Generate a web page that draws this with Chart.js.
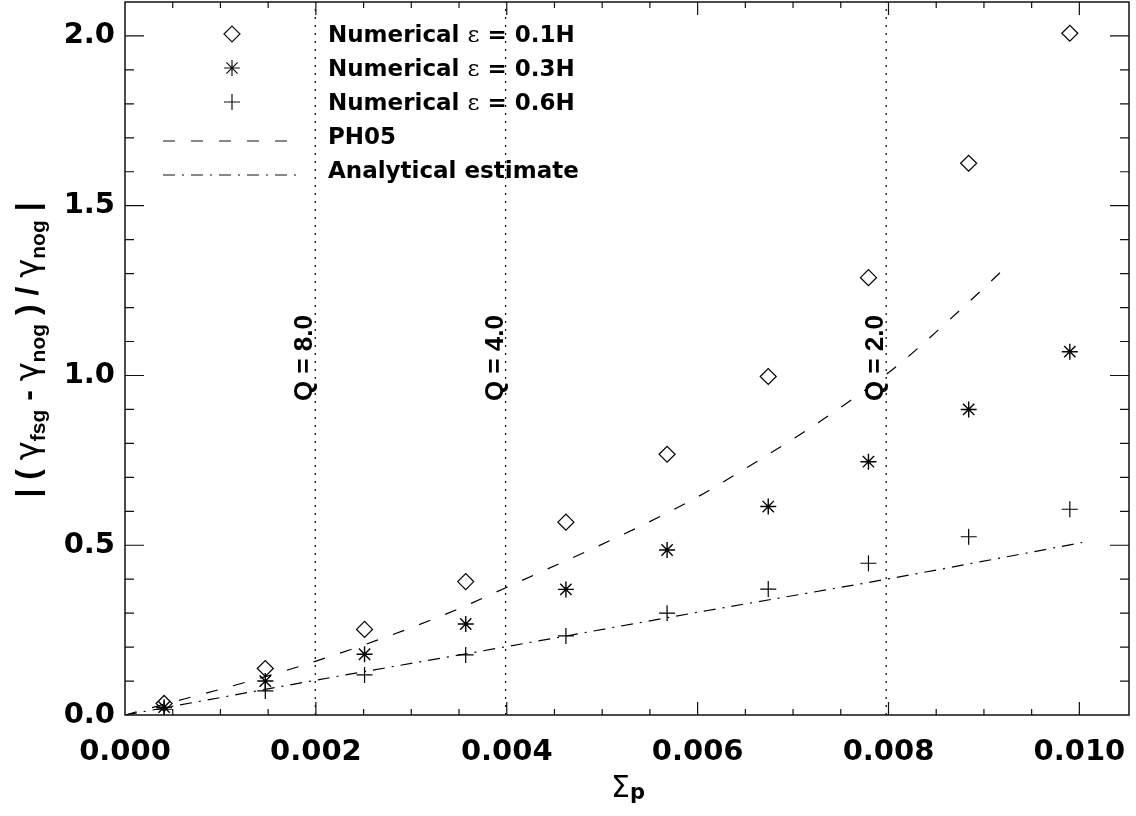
<!DOCTYPE html>
<html>
<head>
<meta charset="utf-8">
<title>Growth rate deviation vs Sigma_p</title>
<style>
  html, body { margin: 0; padding: 0; background: #fff; }
  #wrap { width: 1136px; height: 816px; position: relative; }
</style>
<script src="https://cdn.jsdelivr.net/npm/chart.js"></script>
</head>
<body>
<div id="wrap"><canvas id="chart"></canvas></div>
<script>
// values
const sigmaP = [0.00041, 0.00147, 0.00251, 0.00357, 0.00462, 0.00568, 0.00674, 0.00779, 0.00884, 0.00990];
const eps01 = [0.034, 0.137, 0.252, 0.393, 0.568, 0.768, 0.997, 1.288, 1.625, 2.008];
const eps03 = [0.023, 0.100, 0.179, 0.268, 0.370, 0.486, 0.614, 0.746, 0.900, 1.070];
const eps06 = [0.017, 0.071, 0.118, 0.177, 0.233, 0.300, 0.371, 0.447, 0.525, 0.606];

const ph05X = [0, 0.00187, 0.0033, 0.00399, 0.00568, 0.0062, 0.00798, 0.00876, 0.00923];
const ph05Y = [0, 0.147, 0.290, 0.375, 0.595, 0.675, 1.004, 1.195, 1.319];

const anaX = [0, 0.00215, 0.00399, 0.00609, 0.00798, 0.01003];
const anaY = [0, 0.110, 0.201, 0.307, 0.400, 0.508];

const qValues = [8.0, 4.0, 2.0];
const qSigma = [0.001994, 0.003988, 0.007976];

const xTicks = [0, 0.002, 0.004, 0.006, 0.008, 0.010];
const yTicks = [0.0, 0.5, 1.0, 1.5, 2.0];

const legendLabels = ["0.1H", "0.3H", "0.6H"];

const pts = (xs, ys) => xs.map((x, i) => ({ x: x, y: ys[i] }));

const qLines = qSigma.map((s) => ({
  data: [{ x: s, y: 0 }, { x: s, y: 2.1 }],
  showLine: true,
  borderColor: "#000",
  borderWidth: 1.2,
  borderDash: [2, 6],
  pointRadius: 0,
}));

// draw text made of pieces (bold / greek / subscript)
function drawRuns(ctx, runs, x, y) {
  let w = 0;
  for (const r of runs) {
    ctx.font = r.font;
    r.w = ctx.measureText(r.t).width;
    w += r.w;
  }
  let cx = x;
  for (const r of runs) {
    ctx.font = r.font;
    ctx.fillText(r.t, cx, y + (r.dy || 0));
    cx += r.w;
  }
  return w;
}
function runsWidth(ctx, runs) {
  let w = 0;
  for (const r of runs) {
    ctx.font = r.font;
    w += ctx.measureText(r.t).width;
  }
  return w;
}

function symbol(ctx, kind, x, y, r) {
  ctx.beginPath();
  if (kind === "diamond") {
    ctx.moveTo(x - r, y); ctx.lineTo(x, y - r); ctx.lineTo(x + r, y); ctx.lineTo(x, y + r); ctx.closePath();
  } else {
    ctx.moveTo(x - r, y); ctx.lineTo(x + r, y);
    ctx.moveTo(x, y - r); ctx.lineTo(x, y + r);
    if (kind === "star") {
      const d = r * Math.SQRT1_2;
      ctx.moveTo(x - d, y - d); ctx.lineTo(x + d, y + d);
      ctx.moveTo(x - d, y + d); ctx.lineTo(x + d, y - d);
    }
  }
  ctx.stroke();
}

// kill the label overflow padding so the plot box lands where we want it
const noPad = (s) => {
  s.paddingTop = 0; s.paddingBottom = 0; s.paddingLeft = 0; s.paddingRight = 0;
};

const decor = {
  id: "decor",
  afterDatasetsDraw(chart) {
    const { ctx, chartArea: a, scales } = chart;
    const x = scales.x, y = scales.y;
    ctx.save();
    ctx.strokeStyle = "#111";
    ctx.fillStyle = "#000";

    // frame + inward ticks on all four sides
    ctx.lineWidth = 1.5;
    ctx.strokeRect(a.left, a.top, a.right - a.left, a.bottom - a.top);
    ctx.lineWidth = 1.2;
    ctx.beginPath();
    for (let i = 1; ; i++) {
      const px = x.getPixelForValue(i * 0.0005);
      if (px > a.right - 3) break;
      const len = i % 4 === 0 ? 13 : 6;
      ctx.moveTo(px, a.bottom); ctx.lineTo(px, a.bottom - len);
      ctx.moveTo(px, a.top); ctx.lineTo(px, a.top + len);
    }
    for (let i = 1; ; i++) {
      const py = y.getPixelForValue(i / 10);
      if (py < a.top + 3) break;
      const len = i % 5 === 0 ? 19 : 9;
      ctx.moveTo(a.left, py); ctx.lineTo(a.left + len, py);
      ctx.moveTo(a.right, py); ctx.lineTo(a.right - len, py);
    }
    ctx.stroke();

    // Q labels next to the dotted lines
    ctx.font = 'bold 26px "Liberation Sans"';
    ctx.textAlign = "center";
    ctx.textBaseline = "alphabetic";
    qValues.forEach((q, i) => {
      const px = x.getPixelForValue(qSigma[i]);
      ctx.save();
      ctx.translate(px - 3, 358);
      ctx.rotate(-Math.PI / 2);
      ctx.fillText("Q = " + q.toFixed(1), 0, 0);
      ctx.restore();
    });
    ctx.textAlign = "left";

    // legend
    const lf = 'bold 23px "DejaVu Sans"';
    const gf = '23px "DejaVu Serif"';
    const rowY = [34, 68, 102, 136, 170];
    const kinds = ["diamond", "star", "plus"];
    ctx.lineWidth = 1.2;
    for (let i = 0; i < 3; i++) {
      symbol(ctx, kinds[i], 232, rowY[i], 8);
      drawRuns(ctx, [
        { t: "Numerical ", font: lf },
        { t: "ε", font: gf },
        { t: " = " + legendLabels[i], font: lf },
      ], 328, rowY[i] + 8);
    }
    ctx.setLineDash([12, 16]);
    ctx.beginPath(); ctx.moveTo(163, rowY[3] + 5); ctx.lineTo(290, rowY[3] + 5); ctx.stroke();
    ctx.setLineDash([12, 7, 2, 7]);
    ctx.beginPath(); ctx.moveTo(163, rowY[4] + 5); ctx.lineTo(298, rowY[4] + 5); ctx.stroke();
    ctx.setLineDash([]);
    ctx.font = lf;
    ctx.fillText("PH05", 328, rowY[3] + 8);
    ctx.fillText("Analytical estimate", 328, rowY[4] + 8);

    // x axis title
    drawRuns(ctx, [
      { t: "Σ", font: '30px "DejaVu Sans"' },
      { t: "p", font: 'bold 21px "DejaVu Sans"', dy: 2 },
    ], 611, 797);

    // y axis title (rotated)
    const bf = 'bold 32px "Liberation Sans"';
    const gy = '32px "DejaVu Sans"';
    const sf = 'bold 21px "Liberation Sans"';
    const yRuns = [
      { t: "| ( ", font: bf },
      { t: "γ", font: gy },
      { t: "fsg", font: sf, dy: 7 },
      { t: " - ", font: bf },
      { t: "γ", font: gy },
      { t: "nog", font: sf, dy: 7 },
      { t: " ) / ", font: bf },
      { t: "γ", font: gy },
      { t: "nog", font: sf, dy: 7 },
      { t: " |", font: bf },
    ];
    ctx.save();
    ctx.translate(38, 350);
    ctx.rotate(-Math.PI / 2);
    const w = runsWidth(ctx, yRuns);
    drawRuns(ctx, yRuns, -w / 2, 0);
    ctx.restore();

    ctx.restore();
  },
};

new Chart(document.getElementById("chart"), {
  type: "scatter",
  data: {
    datasets: [
      ...qLines,
      {
        label: "PH05",
        data: pts(ph05X, ph05Y),
        showLine: true,
        borderColor: "#000",
        borderWidth: 1.2,
        borderDash: [12, 16],
        cubicInterpolationMode: "monotone",
        pointRadius: 0,
      },
      {
        label: "Analytical estimate",
        data: pts(anaX, anaY),
        showLine: true,
        borderColor: "#000",
        borderWidth: 1.2,
        borderDash: [12, 7, 2, 7],
        cubicInterpolationMode: "monotone",
        pointRadius: 0,
      },
      {
        label: "Numerical eps = 0.1H",
        data: pts(sigmaP, eps01),
        pointStyle: "rectRot",
        pointRadius: 8,
        borderColor: "#000",
        backgroundColor: "rgba(0,0,0,0)",
        pointBorderWidth: 1.2,
      },
      {
        label: "Numerical eps = 0.3H",
        data: pts(sigmaP, eps03),
        pointStyle: "star",
        pointRadius: 8,
        borderColor: "#000",
        pointBorderWidth: 1.4,
      },
      {
        label: "Numerical eps = 0.6H",
        data: pts(sigmaP, eps06),
        pointStyle: "cross",
        pointRadius: 8,
        borderColor: "#000",
        pointBorderWidth: 1.2,
      },
    ],
  },
  options: {
    responsive: true,
    maintainAspectRatio: false,
    animation: false,
    events: [],
    layout: { autoPadding: false, padding: { top: 2, right: 7, left: 0, bottom: 0 } },
    plugins: { legend: { display: false }, tooltip: { enabled: false } },
    scales: {
      x: {
        type: "linear",
        min: 0,
        max: 0.01052,
        grid: { display: false },
        border: { display: false },
        afterBuildTicks: (s) => { s.ticks = xTicks.map((v) => ({ value: v })); },
        afterFit: (s) => { s.height = 101; noPad(s); },
        ticks: {
          color: "#000",
          padding: 12,
          maxRotation: 0,
          font: { family: "DejaVu Sans", weight: "bold", size: 29 },
          callback: (v) => Number(v).toFixed(3),
        },
      },
      y: {
        type: "linear",
        min: 0,
        max: 2.1,
        grid: { display: false },
        border: { display: false },
        afterBuildTicks: (s) => { s.ticks = yTicks.map((v) => ({ value: v })); },
        afterFit: (s) => { s.width = 125; noPad(s); },
        ticks: {
          color: "#000",
          padding: 2,
          font: { family: "DejaVu Sans", weight: "bold", size: 29 },
          callback: (v) => Number(v).toFixed(1),
        },
      },
    },
  },
  plugins: [decor],
});
</script>
</body>
</html>
